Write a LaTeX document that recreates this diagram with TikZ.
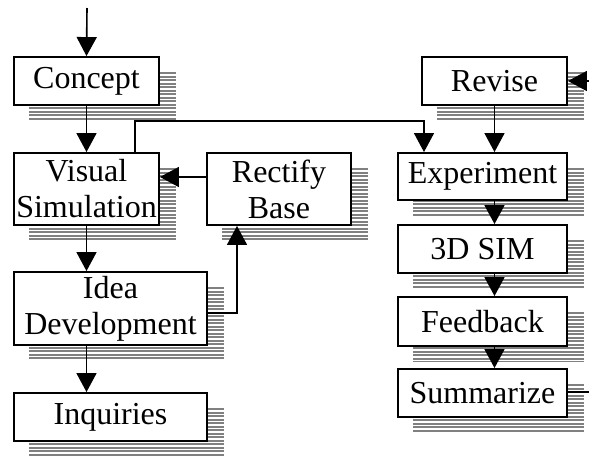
\documentclass[tikz,border=0pt]{standalone}
\usepackage{fontspec}
\setmainfont{Liberation Serif}
\usetikzlibrary{arrows.meta,backgrounds,calc}
\begin{document}
\begin{tikzpicture}[x=1pt,y=-1pt,
  box/.style={draw=black,line width=1.9pt,fill=white,inner sep=0pt,align=center,
    font=\fontsize{32}{36}\selectfont},
  conn/.style={line width=1.6pt,black},
  arr/.style={conn,-{Triangle[width=20pt,length=19pt]}},
  shadeline/.style={line width=2.3pt,draw={rgb,255:red,128;green,128;blue,128}}]
\useasboundingbox (0,0) rectangle (589,456);
% boxes
\node[box,minimum width=145pt,minimum height=48pt] (concept) at (86.5,81) {Concept};
\node[box,minimum width=145pt,minimum height=72pt] (visual) at (86.5,189) {Visual\\Simulation};
\node[box,minimum width=144pt,minimum height=72pt] (rectify) at (279,189) {Rectify\\Base};
\node[box,minimum width=193pt,minimum height=73pt] (idea) at (110.5,308.5) {Idea\\Development};
\node[box,minimum width=193pt,minimum height=48pt] (inquiries) at (110.5,417) {Inquiries};
\node[box,minimum width=145pt,minimum height=48pt] (revise) at (494.5,81) {Revise};
\node[box,minimum width=169pt,minimum height=47pt] (experiment) at (482.5,176.5) {Experiment};
\node[box,minimum width=169pt,minimum height=48pt] (sim) at (482.5,249) {3D SIM};
\node[box,minimum width=169pt,minimum height=49pt] (feedback) at (482.5,321.5) {Feedback};
\node[box,minimum width=169pt,minimum height=48pt] (summarize) at (482.5,393) {Summarize};
% shadows
\begin{scope}[on background layer]
\foreach \n in {concept,visual,rectify,idea,inquiries,revise,experiment,sim,feedback,summarize}{
  \begin{scope}
  \clip ([shift={(16pt,-16pt)}]\n.north west) coordinate (A) rectangle ([shift={(16pt,-15pt)}]\n.south east);
  \foreach \k in {0,...,26}
    \draw[shadeline] ($(A)+(0,\k*3.5+1.2)$) -- ($(A)+(210,\k*3.5+1.2)$);
  \end{scope}
}
\end{scope}
% connectors
\coordinate (start) at (87,8);
\coordinate (rightin) at (589,81);
\coordinate (rightout) at (589,392);
\draw[arr] (start) -- (concept.north);
\draw[arr] (concept.south) -- (visual.north);
\draw[arr] (visual.south) -- (visual.south |- idea.north);
\draw[arr] (visual.south |- idea.south) -- (visual.south |- inquiries.north);
\draw[arr] (rectify.west |- 0,177) -- (visual.east |- 0,177);
\draw[arr] (idea.east |- 0,313) -| (rectify.south -| 237,0);
\draw[arr] (visual.north -| 135,0) -- (135,121) -| (experiment.north -| 424,0);
\draw[arr] (revise.south) -- (revise.south |- experiment.north);
\draw[arr] (revise.south |- experiment.south) -- (revise.south |- sim.north);
\draw[arr] (revise.south |- sim.south) -- (revise.south |- feedback.north);
\draw[arr] (revise.south |- feedback.south) -- (revise.south |- summarize.north);
\draw[arr] (rightin) -- (revise.east);
\draw[conn] (summarize.east |- rightout) -- (rightout);
\end{tikzpicture}
\end{document}
